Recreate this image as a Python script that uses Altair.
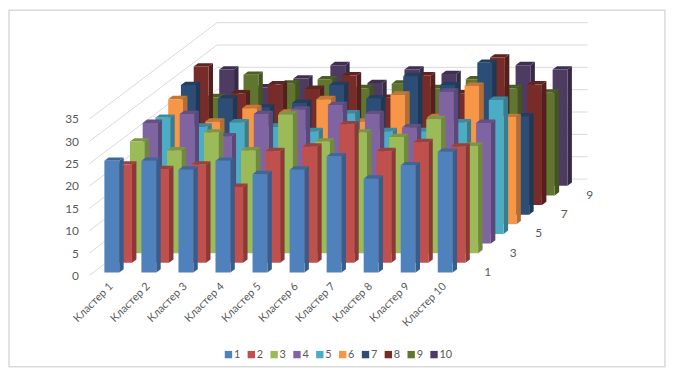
import altair as alt
import pandas as pd

clusters = list(range(1, 11))
series = [str(i) for i in range(1, 11)]
values = {
    "1": [25, 25, 23, 25, 22, 23, 26, 21, 24, 27],
    "2": [22, 21, 22, 17, 25, 26, 31, 25, 27, 26],
    "3": [25, 23, 27, 23, 31, 25, 27, 26, 30, 24],
    "4": [27, 29, 24, 29, 30, 31, 29, 26, 34, 27],
    "5": [26, 24, 25, 24, 23, 27, 23, 23, 25, 30],
    "6": [28, 23, 26, 25, 28, 23, 29, 24, 31, 24],
    "7": [29, 26, 24, 25, 29, 26, 31, 29, 34, 22],
    "8": [31, 25, 27, 26, 29, 24, 29, 25, 33, 27],
    "9": [22, 27, 25, 26, 24, 25, 24, 26, 24, 23],
    "10": [26, 22, 24, 27, 23, 26, 25, 26, 27, 26],
}
front = ["#4F81BD", "#C0504D", "#9BBB59", "#8064A2", "#4BACC6", "#F79646", "#2C4D75", "#772C2A", "#5F7530", "#4D3B62"]
side = ["#385D8A", "#8C3836", "#71893F", "#5C4776", "#357D91", "#B66D31", "#1F3854", "#541F1D", "#445421", "#372A47"]
topc = ["#3F6797", "#9A403E", "#7C9647", "#664F82", "#3C89A0", "#C67736", "#233E5E", "#5F2321", "#4C5E26", "#3E2F4E"]
y_ticks = [0, 5, 10, 15, 20, 25, 30, 35]
depth_labels = [1, 3, 5, 7, 9]

PX_X = 37.3      # px per cluster
PX_V = 4.5       # px per value unit
KX = 12.85 / PX_X # horizontal shift per series, in cluster units
KY = 9.7 / PX_V  # vertical shift per series, in value units
BAR_W = 0.4
BAR_D = 0.35
D0 = 0.3

front_rows, side_rows, top_rows = [], [], []
for si, s in enumerate(series):
    d = si + D0
    for ci, v in enumerate(values[s]):
        x0 = ci + 0.3 + d * KX
        x1 = x0 + BAR_W
        b = d * KY
        key = f"{s}-{ci}"
        front_rows.append(dict(s=s, si=si, x=x0, x2=x1, y=b, y2=b + v))
        for t in (0, BAR_D):
            side_rows.append(dict(si=si, k=key, x=x1 + t * KX, y=b + t * KY, y2=b + v + t * KY))
            top_rows.append(dict(si=si, k=key, y=b + v + t * KY, x=x0 + t * KX, x2=x1 + t * KX))
F, S, T = pd.DataFrame(front_rows), pd.DataFrame(side_rows), pd.DataFrame(top_rows)

xs = alt.Scale(domain=[0, 13.5], nice=False, zero=False)
ys = alt.Scale(domain=[0, 58], nice=False, zero=False)
x_axis = alt.Axis(values=[c - 0.5 for c in clusters], labelExpr="'Кластер ' + (datum.value + 0.5)",
                  labelAngle=-45, labelAlign="right", labelBaseline="middle", labelPadding=9, labelOffset=3,
                  domain=False, ticks=False, grid=False,
                  labelFont="Lato", labelFontSize=11, labelColor="#595959", labelOverlap=False)
y_axis = alt.Axis(values=y_ticks, labelPadding=11, domain=False, ticks=False, grid=False, labelOverlap=False,
                  labelSeparation=0, labelFont="Lato", labelFontSize=12, labelColor="#595959")
X = lambda f: alt.X(f, type="quantitative", scale=xs, title=None, axis=x_axis)
Y = lambda f: alt.Y(f, type="quantitative", scale=ys, title=None, axis=y_axis)

wall_left = pd.DataFrame([dict(x=0, x2=10 * KX, y=v, y2=v + 10 * KY) for v in y_ticks])
wall_back = pd.DataFrame([dict(x=10 * KX, x2=10 + 10 * KX, y=v + 10 * KY) for v in y_ticks])
layers = [
    alt.Chart(wall_left).mark_rule(color="#d9d9d9", strokeWidth=1).encode(
        x=X("x"), x2="x2", y=Y("y"), y2="y2"),
    alt.Chart(wall_back).mark_rule(color="#d9d9d9", strokeWidth=1).encode(
        x=X("x"), x2="x2", y=Y("y")),
    alt.Chart(pd.DataFrame({"a": [0]})).mark_rect(fillOpacity=0, stroke="#d9d9d9", strokeWidth=1.5).encode(
        x=alt.value(-81), x2=alt.value(579.5), y=alt.value(-6), y2=alt.value(353)),
]
color = alt.Color("s:N", scale=alt.Scale(domain=series, range=front),
                  legend=alt.Legend(title=None, orient="none", legendX=134.5, legendY=335, direction="horizontal",
                                    columns=10, symbolType="square", symbolSize=55, symbolStrokeWidth=0, columnPadding=5,
                                    labelFont="Lato", labelFontSize=11, labelColor="#595959", labelOffset=0))
for si in reversed(range(len(series))):
    layers.append(alt.Chart(S[S.si == si]).mark_area(color=side[si], orient="vertical").encode(
        x=X("x"), y=Y("y"), y2="y2", detail="k:N"))
    layers.append(alt.Chart(T[T.si == si]).mark_area(color=topc[si], orient="horizontal").encode(
        x=X("x"), x2="x2", y=Y("y"), detail="k:N"))
    layers.append(alt.Chart(F[F.si == si]).mark_rect().encode(
        x=X("x"), x2="x2", y=Y("y"), y2="y2", color=color))

depth = pd.DataFrame([dict(x=10 + (n - 1) * KX + 0.75, y=(n - 1) * KY + 0.8, t=str(n)) for n in depth_labels])
layers.append(alt.Chart(depth).mark_text(font="Lato", fontSize=12, color="#595959").encode(
    x=X("x"), y=Y("y"), text="t:N"))

chart = alt.layer(*layers).properties(
    width=503.6, height=261,
    padding=0,
).configure_view(stroke=None)
chart.save("out.html", embed_options={"renderer": "svg", "actions": False})
